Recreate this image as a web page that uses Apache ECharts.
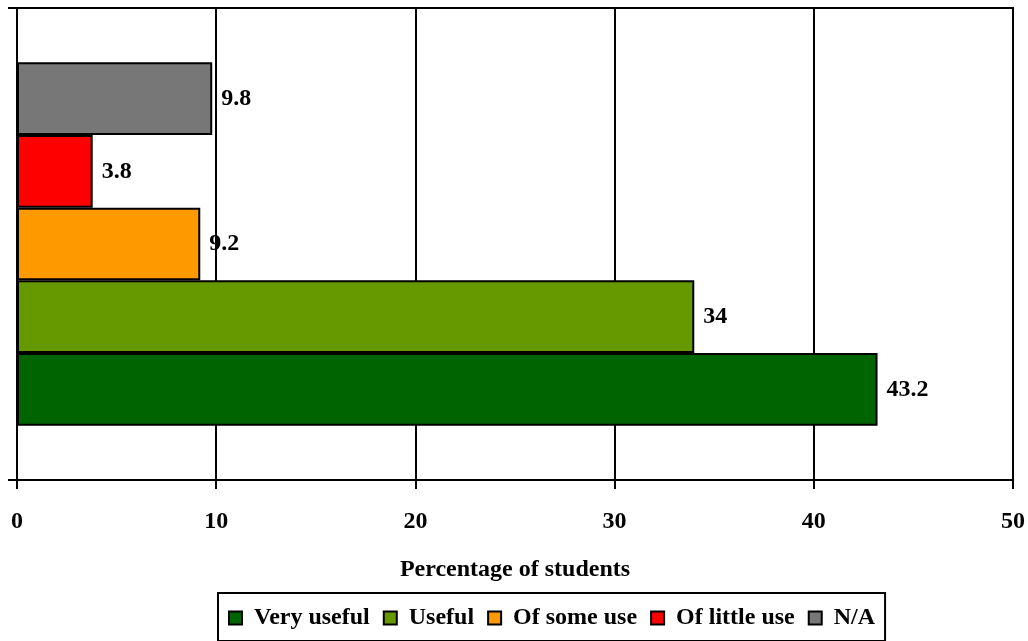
<!DOCTYPE html>
<html>
<head>
<meta charset="utf-8">
<script src="https://cdn.jsdelivr.net/npm/echarts@6/dist/echarts.min.js"></script>
<style>
html,body{margin:0;padding:0;background:#fff;}
#chart{width:1028px;height:641px;}
</style>
</head>
<body>
<div id="chart"></div>
<script>
var categories = [''];
var seriesNames = ['Very useful', 'Useful', 'Of some use', 'Of little use', 'N/A'];
var veryUseful = [43.2];
var useful = [34];
var ofSomeUse = [9.2];
var ofLittleUse = [3.8];
var notApplicable = [9.8];
var xTicks = [0, 10, 20, 30, 40, 50];
var seriesValues = [veryUseful, useful, ofSomeUse, ofLittleUse, notApplicable];
var colors = ['#006400', '#669900', '#FF9900', '#FF0000', '#777777'];

var FONT = '"Liberation Serif", "Times New Roman", serif';

var seriesList = seriesNames.map(function (name, i) {
  return {
    name: name,
    type: 'bar',
    data: seriesValues[i],
    barGap: '0%',
    barCategoryGap: '23%',
    itemStyle: {color: colors[i], borderColor: '#000', borderWidth: 2},
    label: {
      show: true, position: 'right', distance: 9,
      fontFamily: FONT, fontWeight: 'bold', fontSize: 24, color: '#000'
    }
  };
}).reverse();

var chart = echarts.init(document.getElementById('chart'), null, {renderer: 'canvas'});
var option = {
  animation: false,
  backgroundColor: '#fff',
  textStyle: {fontFamily: FONT},
  grid: {
    left: 17, right: 15, top: 8, bottom: 161,
    show: true, borderColor: '#000', borderWidth: 2, backgroundColor: 'transparent'
  },
  legend: {
    data: seriesNames,
    left: 218, top: 593,
    padding: [13, 10, 11, 10],
    borderColor: '#000', borderWidth: 2,
    itemGap: 13,
    itemWidth: 13, itemHeight: 13,
    icon: 'rect',
    itemStyle: {borderColor: '#000', borderWidth: 2},
    textStyle: {fontFamily: FONT, fontWeight: 'bold', fontSize: 24, color: '#000', padding: [0, 0, 0, 7]}
  },
  xAxis: {
    type: 'value',
    min: xTicks[0], max: xTicks[xTicks.length - 1], interval: 10,
    name: 'Percentage of students',
    nameLocation: 'middle',
    nameGap: 78,
    nameTextStyle: {fontFamily: FONT, fontWeight: 'bold', fontSize: 24, color: '#000'},
    axisLine: {show: true, lineStyle: {color: '#000', width: 2}},
    axisTick: {show: true, length: 9, lineStyle: {color: '#000', width: 2}},
    axisLabel: {margin: 30, fontFamily: FONT, fontWeight: 'bold', fontSize: 24, color: '#000'},
    splitLine: {show: true, lineStyle: {color: '#000', width: 2}}
  },
  yAxis: {
    type: 'category',
    data: categories,
    axisLine: {show: true, lineStyle: {color: '#000', width: 2}},
    axisTick: {show: true, length: 9, lineStyle: {color: '#000', width: 2}},
    axisLabel: {show: false},
    splitLine: {show: false}
  },
  series: seriesList
};
chart.setOption(option);
</script>
</body>
</html>
